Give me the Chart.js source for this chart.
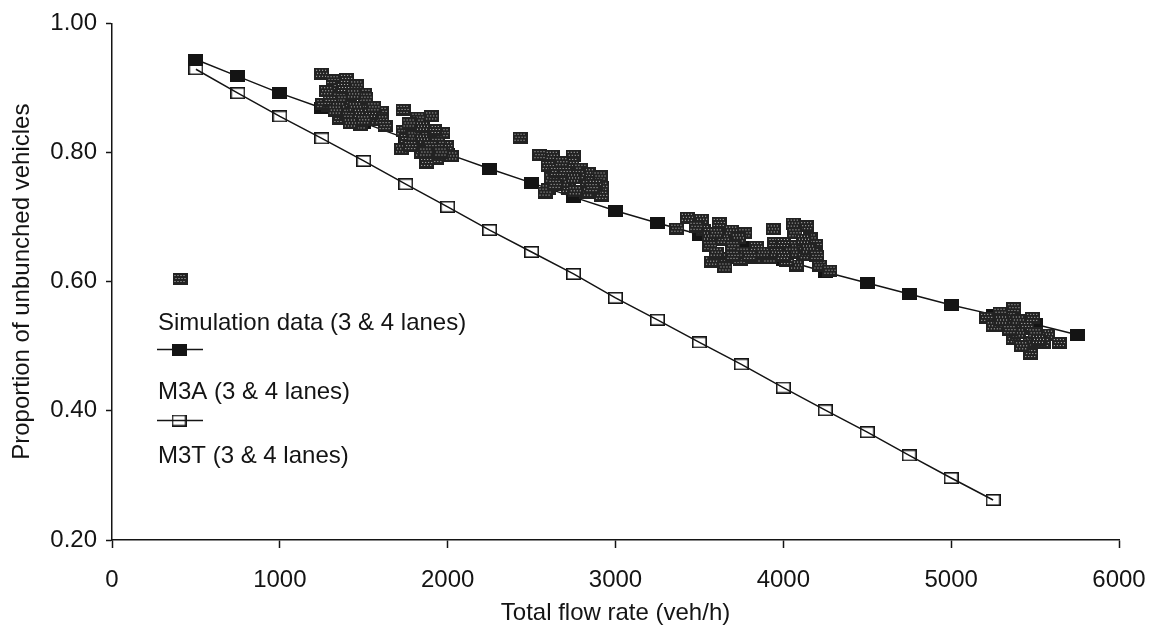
<!DOCTYPE html>
<html>
<head>
<meta charset="utf-8">
<script src="https://cdn.jsdelivr.net/npm/chart.js@4.4.1/dist/chart.umd.min.js"></script>
<style>
  html, body { margin: 0; padding: 0; background: #fff; }
</style>
</head>
<body>
<canvas id="chart" width="1152" height="632"></canvas>
<script>
// model curves (flow in veh/h)
const modelFlow = [500, 750, 1000, 1250, 1500, 1750, 2000, 2250, 2500, 2750, 3000,
  3250, 3500, 3750, 4000, 4250, 4500, 4750, 5000, 5250, 5500, 5750];
const m3aValues = [0.944, 0.918, 0.892, 0.869, 0.846, 0.822, 0.798, 0.775, 0.753, 0.731, 0.710,
  0.691, 0.673, 0.653, 0.634, 0.615, 0.598, 0.581, 0.564, 0.549, 0.534, 0.518];
const m3tValues = [0.929, 0.892, 0.856, 0.822, 0.787, 0.751, 0.716, 0.680, 0.646, 0.612, 0.575,
  0.541, 0.506, 0.472, 0.436, 0.401, 0.367, 0.331, 0.296, 0.262];

// simulation data (3 & 4 lanes)
const simFlow = [
  1249, 1317, 1398, 1458, 1317, 1279, 1404, 1507, 1513, 1418, 1507, 1603, 1436, 1547, 1607, 1478, 1358, 1287, 1257, 1627, 1358,
  1300, 1350, 1400, 1450, 1480, 1380, 1440, 1540, 1560, 1330, 1420, 1500,
  1734, 1823, 1905, 1734, 1883, 1972, 1793, 1726, 1845, 1935, 1994, 1942, 1815, 1756, 2024, 1875,
  1770, 1800, 1850, 1900, 1870, 1780, 1960, 1920, 1850,
  2431,
  2550, 2623, 2748, 2739, 2599, 2794, 2838, 2908, 2918, 2599, 2719, 2828, 2918, 2689, 2620, 2580, 2834, 2778,
  2650, 2700, 2750, 2680, 2880, 2860, 2640, 2760,
  3428, 3513, 3618, 3366, 3523, 3692, 3771, 3732, 3642, 3841, 3563, 3573, 3662, 3652, 3742, 3831, 3920, 3960,
  3480, 3560, 3600, 3700, 3760, 3800, 3600, 3880, 3700,
  3940, 4059, 4139, 4069, 4159, 4194, 4178, 4119, 4079, 4020, 4218, 4278, 3950,
  4000, 4080, 4120, 4050, 4150, 4200, 4000,
  5374, 5212, 5350, 5486, 5251, 5321, 5430, 5573, 5549, 5644, 5470, 5370, 5474, 5291,
  5300, 5400, 5450, 5500, 5400, 5350, 5520, 5420
];
const simValues = [
  0.922, 0.912, 0.914, 0.904, 0.903, 0.895, 0.891, 0.891, 0.885, 0.872, 0.866, 0.863, 0.855, 0.850, 0.850, 0.842, 0.852, 0.872, 0.875, 0.841, 0.885,
  0.880, 0.870, 0.860, 0.870, 0.860, 0.900, 0.890, 0.860, 0.870, 0.865, 0.845, 0.850,
  0.866, 0.854, 0.856, 0.833, 0.833, 0.830, 0.838, 0.805, 0.800, 0.790, 0.810, 0.815, 0.818, 0.821, 0.794, 0.784,
  0.845, 0.825, 0.820, 0.810, 0.800, 0.810, 0.800, 0.835, 0.840,
  0.823,
  0.796, 0.795, 0.795, 0.784, 0.779, 0.775, 0.768, 0.763, 0.747, 0.743, 0.744, 0.738, 0.733, 0.754, 0.760, 0.738, 0.754, 0.765,
  0.770, 0.770, 0.760, 0.785, 0.750, 0.745, 0.750, 0.740,
  0.699, 0.696, 0.691, 0.682, 0.680, 0.679, 0.675, 0.667, 0.665, 0.654, 0.655, 0.631, 0.636, 0.622, 0.634, 0.636, 0.636, 0.645,
  0.685, 0.670, 0.675, 0.655, 0.645, 0.640, 0.645, 0.645, 0.640,
  0.681, 0.690, 0.686, 0.675, 0.667, 0.657, 0.644, 0.641, 0.625, 0.632, 0.625, 0.617, 0.660,
  0.660, 0.655, 0.665, 0.645, 0.650, 0.640, 0.640,
  0.559, 0.544, 0.545, 0.544, 0.531, 0.531, 0.526, 0.518, 0.505, 0.505, 0.506, 0.511, 0.488, 0.552,
  0.540, 0.540, 0.530, 0.520, 0.520, 0.525, 0.510, 0.500
];

const seriesLabels = ["Simulation data (3 & 4 lanes)", "M3A (3 & 4 lanes)", "M3T (3 & 4 lanes)"];

const INK = "#141414";
const FONT = "'Liberation Sans', Arial, sans-serif";

Chart.defaults.color = INK;
Chart.defaults.font = { family: FONT, size: 24 };

function makeMarker(kind) {
  const c = document.createElement("canvas");
  c.width = 15;
  c.height = 12;
  const g = c.getContext("2d");
  if (kind === "sim") {
    g.fillStyle = "#222";
    g.fillRect(0, 0, 15, 12);
    g.fillStyle = "#c4c4c4";
    for (let y = 2; y < 11; y += 3) {
      for (let x = 2 + (y % 2); x < 14; x += 3) g.fillRect(x, y, 1, 1);
    }
  } else if (kind === "filled") {
    g.fillStyle = INK;
    g.fillRect(0, 0, 15, 12);
  } else {
    g.strokeStyle = INK;
    g.lineWidth = 1.6;
    g.strokeRect(0.8, 0.8, 13.4, 10.4);
  }
  return c;
}

const simMarker = makeMarker("sim");
const filledMarker = makeMarker("filled");
const openMarker = makeMarker("open");

const toPoints = (xs, ys) => ys.map((y, i) => ({ x: xs[i], y }));

// legend drawn in the plot area, symbol above each label
const sideLegend = {
  id: "sideLegend",
  afterDraw(chart) {
    const ctx = chart.ctx;
    ctx.save();
    ctx.font = "24px " + FONT;
    ctx.fillStyle = INK;
    ctx.textBaseline = "alphabetic";
    ctx.textAlign = "left";

    ctx.drawImage(simMarker, 180 - 7.5, 279 - 6);
    ctx.fillText(seriesLabels[0], 158, 330);

    ctx.strokeStyle = INK;
    ctx.lineWidth = 1.5;
    ctx.beginPath();
    ctx.moveTo(157, 349.5);
    ctx.lineTo(203, 349.5);
    ctx.stroke();
    ctx.drawImage(filledMarker, 179 - 7.5, 349.5 - 6);
    ctx.fillText(seriesLabels[1], 158, 399);

    ctx.beginPath();
    ctx.moveTo(157, 420.5);
    ctx.lineTo(203, 420.5);
    ctx.stroke();
    ctx.drawImage(openMarker, 179 - 7.5, 420.5 - 6);
    ctx.fillText(seriesLabels[2], 158, 463);
    ctx.restore();
  },
};

new Chart(document.getElementById("chart"), {
  type: "scatter",
  data: {
    datasets: [
      {
        label: seriesLabels[0],
        data: toPoints(simFlow, simValues),
        pointStyle: simMarker,
        showLine: false,
      },
      {
        label: seriesLabels[1],
        data: toPoints(modelFlow, m3aValues),
        pointStyle: filledMarker,
        showLine: true,
        borderColor: INK,
        borderWidth: 1.5,
      },
      {
        label: seriesLabels[2],
        data: toPoints(modelFlow, m3tValues),
        pointStyle: openMarker,
        showLine: true,
        borderColor: INK,
        borderWidth: 1.5,
      },
    ],
  },
  options: {
    responsive: false,
    animation: false,
    events: [],
    layout: { padding: { left: 4, right: 33, top: 22, bottom: 0 } },
    scales: {
      x: {
        type: "linear",
        min: 0,
        max: 6000,
        border: { display: true, color: INK, width: 1.5 },
        grid: { display: true, drawOnChartArea: false, drawTicks: true, tickLength: 8, tickColor: INK, tickWidth: 1.5 },
        ticks: { stepSize: 1000, padding: 18, maxRotation: 0, color: INK, callback: (v) => String(v) },
        title: { display: true, text: "Total flow rate (veh/h)", color: INK, padding: { top: 0, bottom: 4 } },
        afterFit(scale) {
          scale.height = 92;
          scale.paddingLeft = 0;
          scale.paddingRight = 0;
        },
      },
      y: {
        type: "linear",
        min: 0.2,
        max: 1.0,
        border: { display: true, color: INK, width: 1.5 },
        grid: { display: true, drawOnChartArea: false, drawTicks: true, tickLength: 6, tickColor: INK, tickWidth: 1.5 },
        ticks: { stepSize: 0.2, padding: 9, color: INK, callback: (v) => v.toFixed(2) },
        title: { display: true, text: "Proportion of unbunched vehicles", color: INK, padding: { top: 4, bottom: 0 } },
        afterFit(scale) { scale.width = 108; },
      },
    },
    plugins: {
      legend: { display: false },
      tooltip: { enabled: false },
    },
  },
  plugins: [sideLegend],
});
</script>
</body>
</html>
